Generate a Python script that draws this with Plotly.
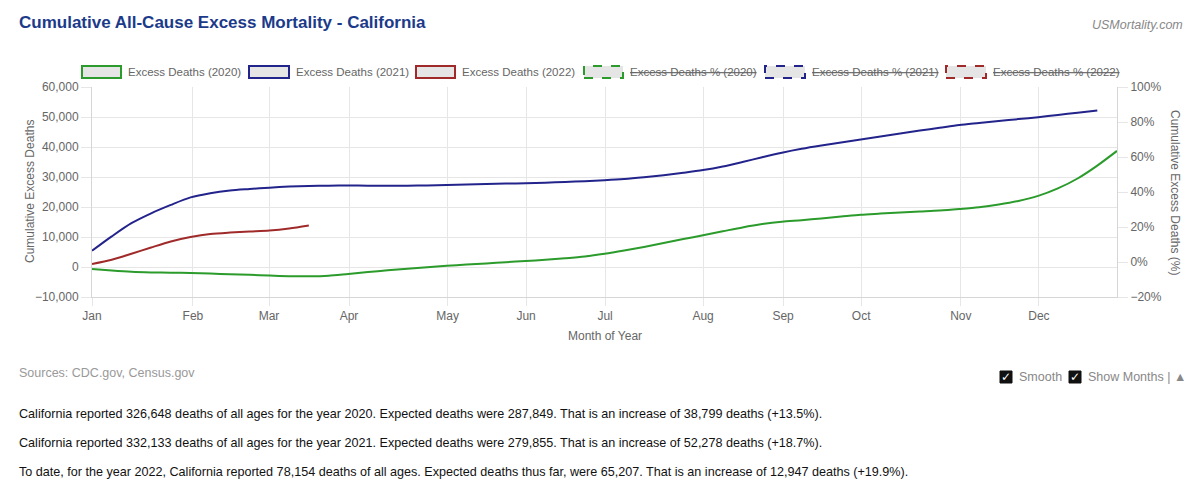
import plotly.graph_objects as go

# ---------------- data ----------------
weeks_2020 = list(range(1, 54))
excess_2020 = [-700, -1200, -1600, -1800, -1900, -2000, -2200, -2400, -2600, -2850,
               -3050, -3100, -2900, -2300, -1700, -1100, -600, -100, 400, 800,
               1200, 1600, 2000, 2400, 2900, 3500, 4400, 5500, 6700, 8000,
               9300, 10600, 11900, 13200, 14300, 15100, 15600, 16200, 16800, 17400,
               17800, 18200, 18500, 18800, 19300, 19900, 20800, 22000, 23700, 26200,
               29500, 33800, 38700]

weeks_2021 = list(range(1, 53))
excess_2021 = [5400, 10200, 14600, 17900, 20700, 23200, 24600, 25500, 26000, 26450,
               26800, 27000, 27100, 27150, 27100, 27050, 27100, 27200, 27350, 27500,
               27650, 27800, 27900, 28100, 28350, 28600, 28900, 29300, 29900, 30600,
               31400, 32300, 33500, 35000, 36600, 38100, 39400, 40500, 41500, 42500,
               43500, 44500, 45500, 46400, 47300, 48000, 48700, 49300, 49950, 50700,
               51450, 52200]

weeks_2022 = list(range(1, 13))
excess_2022 = [1000, 2400, 4400, 6500, 8500, 9970, 11000, 11500, 11850, 12180, 12850, 13840]

month_labels = ["Jan", "Feb", "Mar", "Apr", "May", "Jun", "Jul", "Aug", "Sep", "Oct", "Nov", "Dec"]
month_weeks = [1, 6.12, 9.98, 14.04, 19.04, 23.02, 27.03, 32.0, 36.06, 40.02, 45.08, 49.04]

legend_labels = ["Excess Deaths (2020)", "Excess Deaths (2021)", "Excess Deaths (2022)",
                 "Excess Deaths % (2020)", "Excess Deaths % (2021)", "Excess Deaths % (2022)"]

summary_lines = [
    "California reported 326,648 deaths of all ages for the year 2020. Expected deaths were 287,849. That is an increase of 38,799 deaths (+13.5%).",
    "California reported 332,133 deaths of all ages for the year 2021. Expected deaths were 279,855. That is an increase of 52,278 deaths (+18.7%).",
    "To date, for the year 2022, California reported 78,154 deaths of all ages. Expected deaths thus far, were 65,207. That is an increase of 12,947 deaths (+19.9%).",
]

# ---------------- style ----------------
FONT = "Liberation Sans, Arial, Helvetica, sans-serif"
GREEN = "#2b9b2b"
BLUE = "#23238c"
RED = "#a02a2a"
GRID = "#e6e6e6"
TICKC = "#666666"

W, H = 1200, 500
L, R, T, B = 92, 83, 87, 203
PW, PH = W - L - R, H - T - B


def px(x):
    return (x - L) / PW


def py(y):
    return (H - B - y) / PH


fig = go.Figure()
for wk, vals, col in [(weeks_2020, excess_2020, GREEN),
                      (weeks_2021, excess_2021, BLUE),
                      (weeks_2022, excess_2022, RED)]:
    fig.add_trace(go.Scatter(x=wk, y=vals, mode="lines",
                             line=dict(color=col, width=2, shape="spline", smoothing=0.8),
                             hoverinfo="skip", showlegend=False))

shapes = []
annotations = []

# custom legend
leg_boxes = [(82, 121), (249, 289), (416, 455), (584, 623), (765, 805), (946, 986)]
leg_cols = [GREEN, BLUE, RED, GREEN, BLUE, RED]
for i, ((x0, x1), col, lab) in enumerate(zip(leg_boxes, leg_cols, legend_labels)):
    shapes.append(dict(type="rect", xref="paper", yref="paper",
                       x0=px(x0), x1=px(x1), y0=py(78), y1=py(66),
                       fillcolor="#e5e5e5",
                       line=dict(color=col, width=2, dash="dash" if i >= 3 else "solid")))
    txt = lab if i < 3 else "<s>" + lab + "</s>"
    annotations.append(dict(xref="paper", yref="paper", x=px(x1 + 5), y=py(72),
                            xanchor="left", yanchor="middle", showarrow=False,
                            text=txt, font=dict(family=FONT, size=11.5, color=TICKC)))

# axis titles
annotations.append(dict(xref="paper", yref="paper", x=px(30), y=0.5, textangle=-90,
                        xanchor="center", yanchor="middle", showarrow=False,
                        text="Cumulative Excess Deaths",
                        font=dict(family=FONT, size=12, color=TICKC)))
annotations.append(dict(xref="paper", yref="paper", x=px(1175), y=0.5, textangle=90,
                        xanchor="center", yanchor="middle", showarrow=False,
                        text="Cumulative Excess Deaths (%)",
                        font=dict(family=FONT, size=12, color=TICKC)))
annotations.append(dict(xref="paper", yref="paper", x=0.5, y=py(336),
                        xanchor="center", yanchor="middle", showarrow=False,
                        text="Month of Year",
                        font=dict(family=FONT, size=12, color=TICKC)))

# header texts
annotations.append(dict(xref="paper", yref="paper", x=px(17), y=py(22),
                        xanchor="left", yanchor="middle", showarrow=False,
                        text="<b>Cumulative All-Cause Excess Mortality - California</b>",
                        font=dict(family=FONT, size=17, color="#1b3a8a")))
annotations.append(dict(xref="paper", yref="paper", x=px(1185), y=py(25),
                        xanchor="right", yanchor="middle", showarrow=False,
                        text="<i>USMortality.com</i>",
                        font=dict(family=FONT, size=12.5, color="#888888")))

# footer texts
annotations.append(dict(xref="paper", yref="paper", x=px(17), y=py(373),
                        xanchor="left", yanchor="middle", showarrow=False,
                        text="Sources: CDC.gov, Census.gov",
                        font=dict(family=FONT, size=12.5, color="#999999")))
for ypos, line in zip([414, 443, 472], summary_lines):
    annotations.append(dict(xref="paper", yref="paper", x=px(17), y=py(ypos),
                            xanchor="left", yanchor="middle", showarrow=False,
                            text=line, font=dict(family=FONT, size=12.6, color="#111111")))

# checkboxes
for bx, lab in [(1000, "Smooth"), (1069, "Show Months | ▲")]:
    shapes.append(dict(type="rect", xref="paper", yref="paper",
                       x0=px(bx), x1=px(bx + 12), y0=py(383), y1=py(371),
                       fillcolor="#111111", line=dict(color="#111111", width=1)))
    annotations.append(dict(xref="paper", yref="paper", x=px(bx + 6), y=py(377),
                            xanchor="center", yanchor="middle", showarrow=False,
                            text="<b>✓</b>", font=dict(family="DejaVu Sans", size=12, color="white")))
    annotations.append(dict(xref="paper", yref="paper", x=px(bx + 17), y=py(377),
                            xanchor="left", yanchor="middle", showarrow=False,
                            text=lab, font=dict(family=FONT, size=12.5, color="#888888")))

fig.update_layout(
    width=W, height=H,
    margin=dict(l=L, r=R, t=T, b=B, pad=0),
    paper_bgcolor="white", plot_bgcolor="white",
    showlegend=False,
    font=dict(family=FONT, size=12, color=TICKC),
    xaxis=dict(range=[1, 53], tickvals=month_weeks, ticktext=month_labels,
               showgrid=True, gridcolor=GRID, gridwidth=1,
               ticks="outside", ticklen=8, tickcolor=GRID,
               showline=True, linecolor="#d6d6d6", linewidth=1,
               zeroline=False, tickfont=dict(size=12, color=TICKC), fixedrange=True),
    yaxis=dict(range=[-10000, 60000], dtick=10000, tickformat=",d",
               showgrid=True, gridcolor=GRID, gridwidth=1,
               ticks="outside", ticklen=10, tickcolor=GRID,
               showline=True, linecolor="#d6d6d6", linewidth=1,
               zeroline=False, tickfont=dict(size=12, color=TICKC), fixedrange=True),
    yaxis2=dict(range=[-20, 100], dtick=20, ticksuffix="%", overlaying="y", side="right",
                showgrid=False, ticks="outside", ticklen=10, tickcolor=GRID,
                showline=True, linecolor="#d6d6d6", linewidth=1,
                zeroline=False, tickfont=dict(size=12, color=TICKC), fixedrange=True),
    shapes=shapes,
    annotations=annotations,
)
# invisible helper so the right-hand axis is drawn
fig.add_trace(go.Scatter(x=[None], y=[None], yaxis="y2", showlegend=False, hoverinfo="skip"))

fig.write_html("out.html", config={"displayModeBar": False},
               post_script="document.body.style.margin='0';document.body.style.overflow='hidden';")
